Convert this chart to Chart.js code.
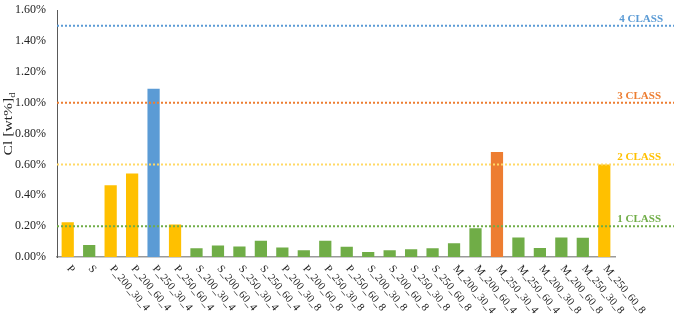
<!DOCTYPE html>
<html lang="en">
<head>
  <meta charset="UTF-8">
  <title>Cl content by sample</title>
  <script src="https://cdn.jsdelivr.net/npm/chart.js"></script>
  <style>
    html, body { margin: 0; padding: 0; background: #fff; }
    #box { width: 674px; height: 316px; }
  </style>
</head>
<body>
  <div id="box"><canvas id="myChart" width="674" height="316"></canvas></div>

<script>
  // samples on the x axis
  var samples = [
    'P', 'S',
    'P_200_30_4', 'P_200_60_4', 'P_250_30_4', 'P_250_60_4',
    'S_200_30_4', 'S_200_60_4', 'S_250_30_4', 'S_250_60_4',
    'P_200_30_8', 'P_200_60_8', 'P_250_30_8', 'P_250_60_8',
    'S_200_30_8', 'S_200_60_8', 'S_250_30_8', 'S_250_60_8',
    'M_200_30_4', 'M_200_60_4', 'M_250_30_4', 'M_250_60_4',
    'M_200_30_8', 'M_200_60_8', 'M_250_30_8', 'M_250_60_8'
  ];

  // Cl [wt%] dry basis
  var clValues = [
    0.225, 0.077,
    0.465, 0.542, 1.09, 0.21,
    0.057, 0.075, 0.068, 0.106,
    0.062, 0.043, 0.106, 0.066,
    0.032, 0.043, 0.051, 0.057,
    0.089, 0.187, 0.68, 0.127,
    0.059, 0.127, 0.125, 0.60
  ];

  // class each bar is coloured by
  var barClass = [
    2, 1,
    2, 2, 4, 2,
    1, 1, 1, 1,
    1, 1, 1, 1,
    1, 1, 1, 1,
    1, 1, 3, 1,
    1, 1, 1, 2
  ];

  // class limits (dotted lines)
  var classNames = ['1 CLASS', '2 CLASS', '3 CLASS', '4 CLASS'];
  var classLimits = [0.2, 0.6, 1.0, 1.5];

  var yTicks = [0, 0.2, 0.4, 0.6, 0.8, 1.0, 1.2, 1.4, 1.6];

  var barColours = { 1: '#70AD47', 2: '#FFC000', 3: '#ED7D31', 4: '#5B9BD5' };
  var lineColours = ['#70AD47', '#FFD966', '#ED7D31', '#5B9BD5'];
  var labelColours = ['#70AD47', '#FFC000', '#ED7D31', '#5B9BD5'];
  var serif = "'Liberation Serif', 'Times New Roman', serif";

  // dotted class lines + their labels, drawn over the bars
  var classLines = {
    id: 'classLines',
    afterDatasetsDraw: function (chart) {
      var ctx = chart.ctx;
      var y = chart.scales.y;
      var left = chart.chartArea.left;
      ctx.save();
      for (var i = 0; i < classLimits.length; i++) {
        var py = y.getPixelForValue(classLimits[i]);
        ctx.strokeStyle = lineColours[i];
        ctx.lineWidth = 2;
        ctx.setLineDash([2, 2]);
        ctx.beginPath();
        ctx.moveTo(left, py);
        ctx.lineTo(chart.width, py);
        ctx.stroke();

        ctx.setLineDash([]);
        ctx.fillStyle = labelColours[i];
        ctx.font = 'bold 11px ' + serif;
        ctx.textAlign = 'right';
        ctx.textBaseline = 'alphabetic';
        ctx.fillText(classNames[i], i == 3 ? 663 : 661, py - 4);
      }
      ctx.restore();
    }
  };

  // slanted sample names and the y title with its subscript
  var axisText = {
    id: 'axisText',
    afterDraw: function (chart) {
      var ctx = chart.ctx;
      var x = chart.scales.x;
      var base = chart.chartArea.bottom;
      ctx.save();
      ctx.fillStyle = '#222';
      ctx.font = '11px ' + serif;
      ctx.textAlign = 'left';
      ctx.textBaseline = 'middle';
      for (var i = 0; i < samples.length; i++) {
        var px = x.getPixelForValue(i);
        ctx.save();
        ctx.translate(px + 1, base + 10);
        ctx.rotate(50 * Math.PI / 180);
        ctx.fillText(samples[i], 0, 0);
        ctx.restore();
      }

      // y title (a bit stretched along its length, like the original)
      ctx.translate(8, 124);
      ctx.rotate(-Math.PI / 2);
      ctx.scale(1.3, 1);
      var main = 'Cl [wt%]';
      ctx.font = '12px ' + serif;
      var w1 = ctx.measureText(main).width;
      ctx.font = '8px ' + serif;
      var w2 = ctx.measureText('d').width;
      var start = -(w1 + w2) / 2;
      ctx.textAlign = 'left';
      ctx.textBaseline = 'alphabetic';
      ctx.font = '12px ' + serif;
      ctx.fillText(main, start, 4);
      ctx.font = '8px ' + serif;
      ctx.fillText('d', start + w1, 7);
      ctx.restore();
    }
  };

  var ctx = document.getElementById('myChart').getContext('2d');
  var myChart = new Chart(ctx, {
    type: 'bar',
    data: {
      labels: samples,
      datasets: [{
        label: 'Cl',
        data: clValues,
        backgroundColor: barClass.map(function (c) { return barColours[c]; }),
        borderWidth: 0,
        categoryPercentage: 1,
        barPercentage: 0.57
      }]
    },
    options: {
      responsive: false,
      animation: false,
      layout: { padding: { top: 6, right: 59, left: 0, bottom: 0 } },
      plugins: {
        legend: { display: false },
        tooltip: { enabled: false }
      },
      scales: {
        x: {
          grid: { display: false },
          border: { color: '#9a9a9a', width: 1.5 },
          ticks: { display: false },
          afterFit: function (scale) { scale.height = 59; }
        },
        y: {
          min: 0,
          max: 1.6,
          grid: { display: false },
          border: { color: '#595959', width: 1 },
          afterBuildTicks: function (scale) {
            scale.ticks = yTicks.map(function (v) { return { value: v }; });
          },
          ticks: {
            color: '#222',
            font: { family: serif, size: 12 },
            padding: 3,
            callback: function (v) { return v.toFixed(2) + '%'; }
          },
          afterFit: function (scale) { scale.width = 57; }
        }
      }
    },
    plugins: [classLines, axisText]
  });
</script>
</body>
</html>
